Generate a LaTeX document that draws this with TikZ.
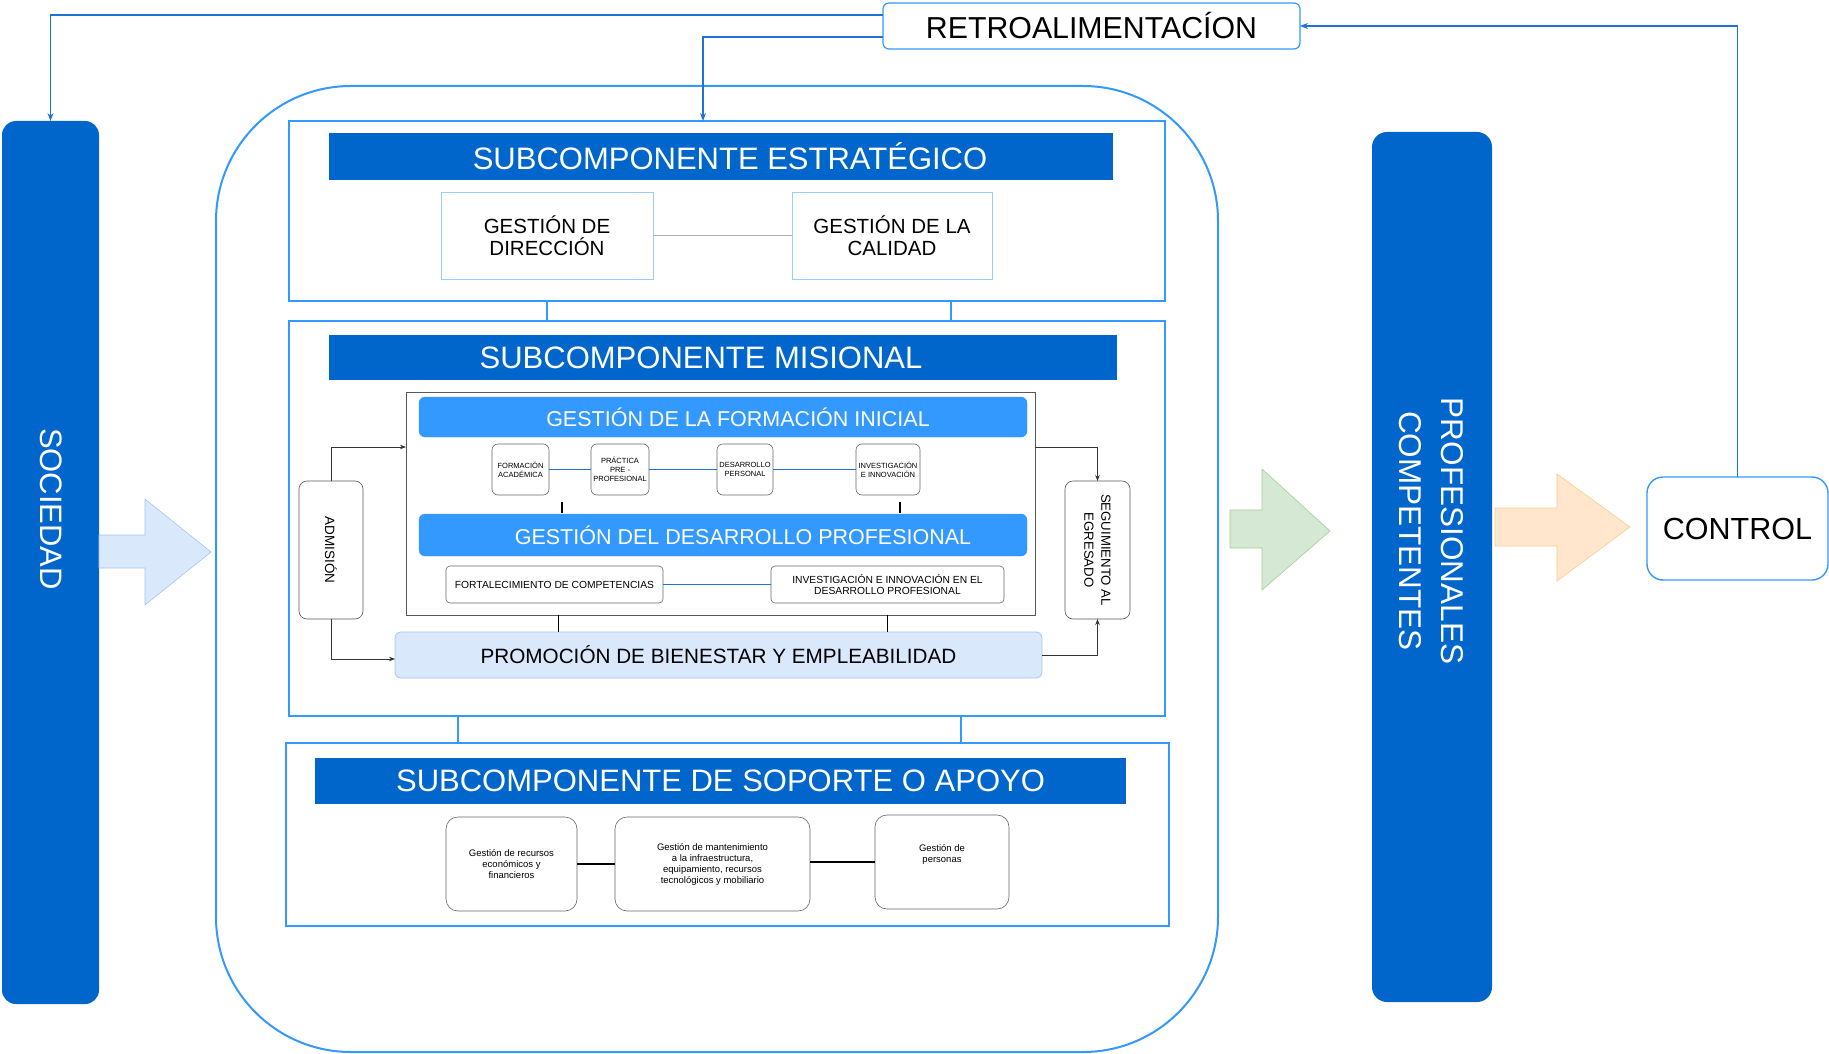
\documentclass[tikz,border=0pt]{standalone}
\usepackage{fontspec}
\setmainfont{Liberation Sans}
\usetikzlibrary{arrows.meta,calc}
\definecolor{dblue}{HTML}{0066CC}
\definecolor{lblue}{HTML}{3399FF}
\definecolor{pblue}{HTML}{DAE8FC}
\definecolor{pbord}{HTML}{A9C4EB}
\definecolor{fbblue}{HTML}{1F72D6}
\definecolor{sblue}{HTML}{99CCFF}
\definecolor{lgreen}{HTML}{D5E8D4}
\definecolor{bgreen}{HTML}{A8CC98}
\definecolor{lorange}{HTML}{FFE6CC}
\definecolor{borange}{HTML}{F5CF8F}
\begin{document}
\begin{tikzpicture}[x=1pt,y=-1pt,
  every node/.style={inner sep=0pt, outer sep=0pt, align=center},
  darkbar/.style={fill=dblue, draw=none, text=white, font=\fontsize{31}{36}\selectfont},
  frame/.style={draw=lblue, line width=1.6pt},
  fbar/.style={fill=lblue, draw=lblue, rounded corners=6pt, text=white, font=\fontsize{21.5}{24}\selectfont},
  tinybox/.style={draw=gray!80!black, line width=0.6pt, rounded corners=6pt, font=\fontsize{7.5}{9}\selectfont},
  midbox/.style={draw=gray!80!black, line width=0.6pt, rounded corners=4pt, font=\fontsize{10.3}{11.5}\selectfont},
  sidebox/.style={draw=gray!70!black, line width=0.6pt, rounded corners=8pt},
  supbox/.style={draw=gray!80!black, line width=0.6pt, rounded corners=12pt, font=\fontsize{9.5}{11}\selectfont},
  stratbox/.style={draw=sblue, line width=0.8pt, font=\fontsize{20.5}{22}\selectfont},
  fb/.style={draw=fbblue, line width=1.1pt, -{Stealth[length=8pt,width=6pt]}},
  arr/.style={draw=black!80, line width=0.8pt, -{Stealth[length=6pt,width=4.5pt]}},
  blink/.style={draw=fbblue, line width=1pt},
  klink/.style={draw=black, line width=1.6pt}
]
\useasboundingbox (0,0) rectangle (1829,1054);
\fill[white] (0,0) rectangle (1829,1054);

% feedback box
\node[draw=lblue, line width=1.2pt, rounded corners=6pt, minimum width=417pt, minimum height=46pt,
  font=\fontsize{30.3}{34}\selectfont] (retro) at (1091.5,26) {RETROALIMENTAC\'ION};

% society bar
\node[fill=dblue, rounded corners=14pt, minimum width=97pt, minimum height=883pt] (soc) at (50.5,562.5) {};
\node[rotate=-90, text=white, font=\fontsize{31}{36}\selectfont] (soctxt) at (51,509) {SOCIEDAD};

% input arrow
\draw[fill=pblue, draw=pbord, line width=0.6pt] (99,535) -- (145,535) -- (145,499) -- (211,552) -- (145,605) -- (145,568) -- (99,568) -- cycle;

% big outline
\draw[draw=lblue, line width=2pt, rounded corners=135pt] (216,86) rectangle (1218,1052);

% strategic
\node[frame, minimum width=876pt, minimum height=180pt] (strat) at (727,211) {};
\node[darkbar, minimum width=784pt, minimum height=47pt] (strattitle) at (721,156.5) {\hspace*{18pt}SUBCOMPONENTE ESTRAT\'EGICO};
\node[stratbox, minimum width=212pt, minimum height=87pt] (dir) at (547,235.5) {GESTI\'ON DE\\DIRECCI\'ON};
\node[stratbox, minimum width=200pt, minimum height=87pt] (cal) at (892,235.5) {GESTI\'ON DE LA\\CALIDAD};
\draw[draw=gray!60, line width=0.8pt] (dir) -- (cal);

% misional
\node[frame, minimum width=876pt, minimum height=395pt] (mis) at (727,518.5) {};
\node[darkbar, minimum width=788pt, minimum height=45pt] (mistitle) at (723,357.5) {SUBCOMPONENTE MISIONAL\hspace*{44pt}};
\coordinate (cx1) at (547,0);
\coordinate (cx2) at (951,0);
\draw[draw=lblue, line width=1.4pt] (strat.south -| cx1) -- (mis.north -| cx1);
\draw[draw=lblue, line width=1.4pt] (strat.south -| cx2) -- (mis.north -| cx2);

\node[draw=gray!70!black, line width=0.8pt, minimum width=629pt, minimum height=223pt] (inner) at (720.5,503.5) {};
\node[fbar, minimum width=608pt, minimum height=40pt] (fi) at (723,417) {\hspace*{30pt}GESTI\'ON DE LA FORMACI\'ON INICIAL};
\node[tinybox, minimum width=57pt, minimum height=51pt] (fa) at (520.5,469.5) {FORMACI\'ON\\ACAD\'EMICA};
\node[tinybox, minimum width=58pt, minimum height=51pt] (pp) at (620,469.5) {PR\'ACTICA\\PRE -\\PROFESIONAL};
\node[tinybox, minimum width=56pt, minimum height=51pt] (dp) at (745,469.5) {DESARROLLO\\PERSONAL};
\node[tinybox, minimum width=64pt, minimum height=51pt] (ii) at (888,469.5) {INVESTIGACI\'ON\\E INNOVACI\'ON};
\draw[blink] (fa) -- (pp);
\draw[blink] (pp) -- (dp);
\draw[blink] (dp) -- (ii);
\coordinate (s1a) at (562,502); \coordinate (s1b) at (562,513);
\coordinate (s2a) at (900,502); \coordinate (s2b) at (900,513);
\draw[klink] (s1a) -- (s1b);
\draw[klink] (s2a) -- (s2b);

\node[fbar, minimum width=608pt, minimum height=42pt] (dpbar) at (723,535) {\hspace*{40pt}GESTI\'ON DEL DESARROLLO PROFESIONAL};
\node[midbox, minimum width=217pt, minimum height=37pt] (fc) at (554.5,584.5) {FORTALECIMIENTO DE COMPETENCIAS};
\node[midbox, minimum width=233pt, minimum height=37pt] (iid) at (887.5,584.5) {INVESTIGACI\'ON E INNOVACI\'ON EN EL\\DESARROLLO PROFESIONAL};
\draw[blink] (fc) -- (iid);

\node[fill=pblue, draw=pbord, line width=0.8pt, rounded corners=6pt, minimum width=647pt, minimum height=46pt,
  font=\fontsize{20.7}{24}\selectfont] (prom) at (718.5,655) {PROMOCI\'ON DE BIENESTAR Y EMPLEABILIDAD};
\coordinate (px1) at (558,0);
\coordinate (px2) at (887,0);
\draw[draw=black, line width=0.9pt] (inner.south -| px1) -- (prom.north -| px1);
\draw[draw=black, line width=0.9pt] (inner.south -| px2) -- (prom.north -| px2);

\node[sidebox, minimum width=64pt, minimum height=138pt] (adm) at (331,550) {};
\node[rotate=-90, font=\fontsize{13.5}{17}\selectfont] (admtxt) at (adm.center) {ADMISI\'ON};
\node[sidebox, minimum width=65pt, minimum height=138pt] (seg) at (1097.5,550) {};
\node[rotate=-90, font=\fontsize{13.2}{17}\selectfont] (segtxt) at (seg.center) {SEGUIMIENTO AL\\EGRESADO};

\draw[arr] (adm.north) |- ([yshift=56.5pt]inner.west);
\draw[arr] (adm.south) |- ([yshift=-4pt]prom.west);
\draw[arr] ([yshift=56.5pt]inner.east) -| (seg.north);
\draw[arr] (prom.east) -| (seg.south);

% support
\node[frame, minimum width=883pt, minimum height=183pt] (sop) at (727.5,834.5) {};
\node[darkbar, minimum width=811pt, minimum height=46pt] (soptitle) at (720.5,781) {SUBCOMPONENTE DE SOPORTE O APOYO};
\coordinate (mx1) at (458,0);
\coordinate (mx2) at (961,0);
\draw[draw=lblue, line width=1.4pt] (mis.south -| mx1) -- (sop.north -| mx1);
\draw[draw=lblue, line width=1.4pt] (mis.south -| mx2) -- (sop.north -| mx2);

\node[supbox, minimum width=131pt, minimum height=94pt] (r1) at (511.5,864) {Gesti\'on de recursos\\econ\'omicos y\\financieros};
\node[supbox, minimum width=195pt, minimum height=94pt] (r2) at (712.5,864) {Gesti\'on de mantenimiento\\a la infraestructura,\\equipamiento, recursos\\tecnol\'ogicos y mobiliario};
\node[supbox, minimum width=134pt, minimum height=94pt] (r3) at (942,862) {Gesti\'on de\\personas\\[6pt]};
\draw[klink] (r1) -- (r2);
\draw[klink] (r2.east |- r3) -- (r3);

% output side
\draw[fill=lgreen, draw=bgreen, line width=0.6pt] (1230,510) -- (1262,510) -- (1262,469) -- (1330,531) -- (1262,590) -- (1262,548) -- (1230,548) -- cycle;
\node[fill=dblue, rounded corners=15pt, minimum width=120pt, minimum height=870pt] (prof) at (1432,567) {};
\node[rotate=-90, text=white, font=\fontsize{31.5}{42}\selectfont] (proftxt) at (1431,531) {PROFESIONALES\\COMPETENTES};
\draw[fill=lorange, draw=borange, line width=0.6pt] (1495,508) -- (1557,508) -- (1557,474) -- (1630,527) -- (1557,581) -- (1557,546) -- (1495,546) -- cycle;
\node[draw=lblue, line width=1.4pt, rounded corners=16pt, minimum width=181pt, minimum height=103pt,
  font=\fontsize{30.5}{34}\selectfont] (ctrl) at (1737.5,528.5) {CONTROL};

% feedback connectors
\coordinate (sx) at (703,0);
\draw[fb] ([yshift=11pt]retro.west) -| (soc.north);
\draw[fb] ([yshift=-11pt]retro.west) -| (strat.north -| sx);
\draw[fb] (ctrl.north) |- (retro.east);
\end{tikzpicture}
\end{document}
